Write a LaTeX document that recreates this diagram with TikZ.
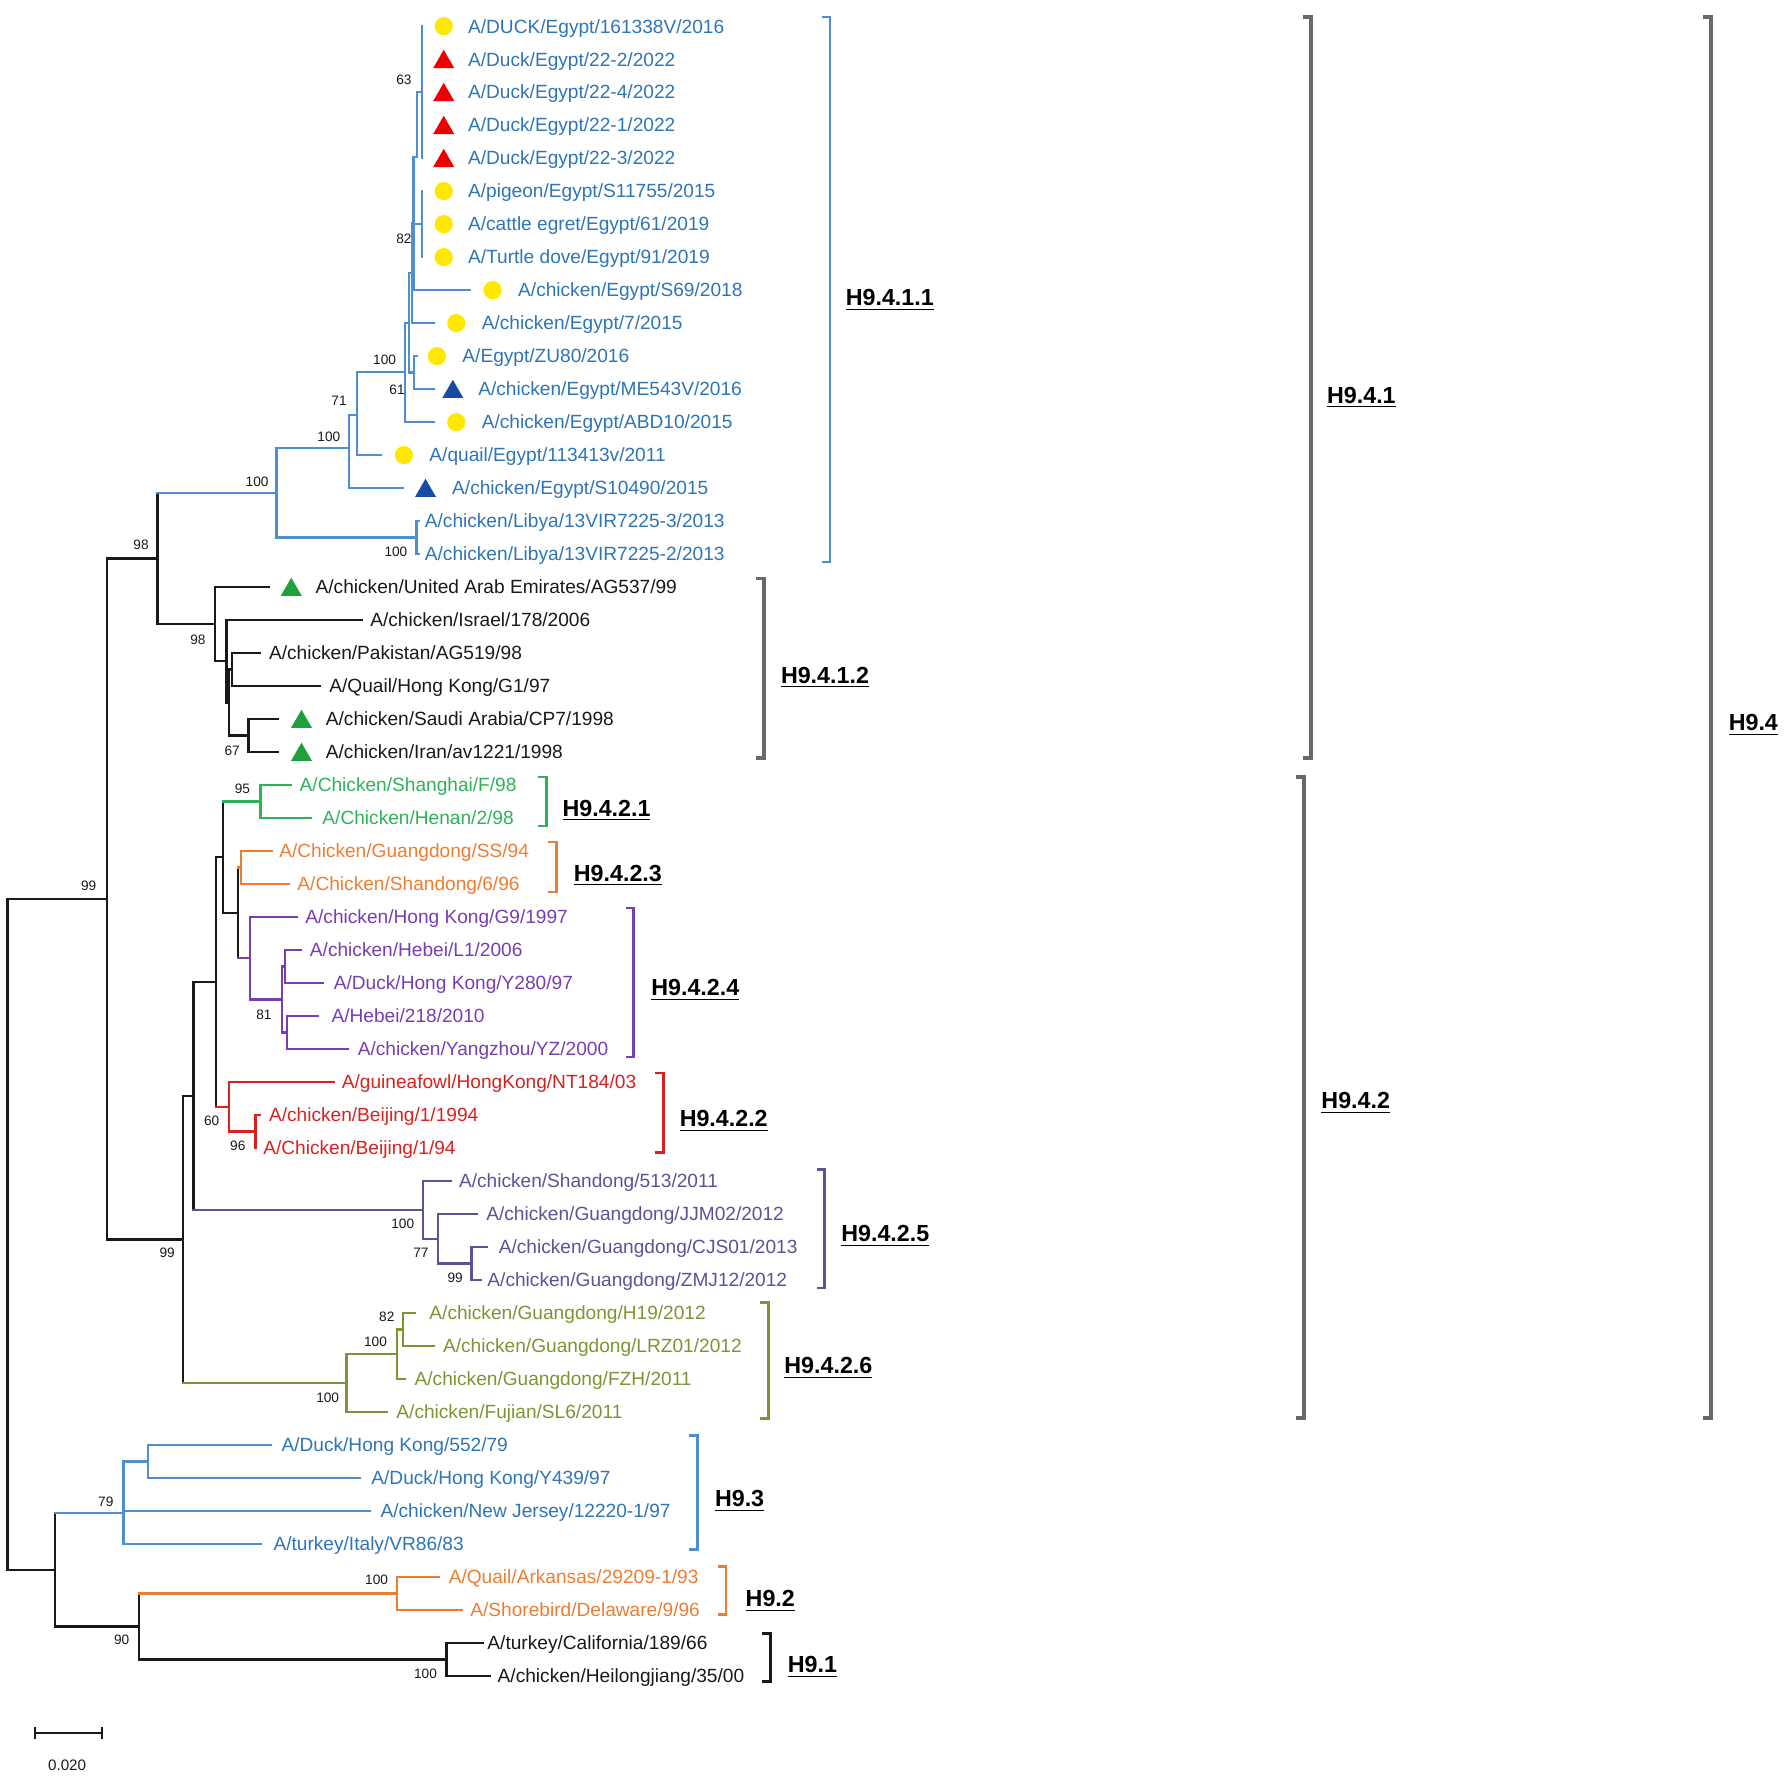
\documentclass[tikz,border=0pt]{standalone}
\usepackage{fontspec}
\setmainfont{Liberation Sans}
\usetikzlibrary{shapes.geometric}
\definecolor{cbl}{RGB}{79,143,207}
\definecolor{tbl}{RGB}{46,117,182}
\definecolor{cyel}{RGB}{255,232,0}
\definecolor{cred}{RGB}{238,0,0}
\definecolor{cdb}{RGB}{25,75,165}
\definecolor{cgt}{RGB}{30,160,60}
\definecolor{cgr}{RGB}{45,178,90}
\definecolor{cor}{RGB}{237,125,49}
\definecolor{cpu}{RGB}{118,62,178}
\definecolor{crd}{RGB}{218,32,32}
\definecolor{csl}{RGB}{92,82,150}
\definecolor{colv}{RGB}{122,150,52}
\definecolor{cgy}{RGB}{105,105,105}
\definecolor{cbk}{RGB}{25,25,25}
\newcommand{\trH}[3]{\draw[br,#3] (#1 |- #2) -- (#2);}
\newcommand{\trV}[4]{\draw[br,#4] (#1 |- #2) -- (#1 |- #3);}
\begin{document}
\begin{tikzpicture}[x=0.45pt,y=-0.45pt,
  br/.style={line width=0.9pt, line cap=rect},
  leaf/.style={anchor=west, inner sep=0pt, font=\fontsize{7.56pt}{9pt}\selectfont, text height=5.4pt, text depth=0pt},
  boot/.style={inner sep=0pt, font=\fontsize{5.4pt}{6pt}\selectfont, text height=3.9pt, text depth=0pt, text=cbk},
  clab/.style={anchor=west, inner sep=0pt, font=\fontsize{9.2pt}{11pt}\selectfont\bfseries, text height=6.6pt, text depth=0pt, text=black},
  brk/.style={line width=1.1pt},
  gbrk/.style={line width=1.5pt, cgy},
  ycirc/.style={circle, fill=cyel, minimum size=7.2pt, inner sep=0pt},
  tri/.style={regular polygon, regular polygon sides=3, minimum size=9.6pt, inner sep=0pt, yshift=-1.1pt}
]
\useasboundingbox (0,0) rectangle (1568,1564);

% ---------- leaves ----------
\coordinate (t0) at (371,23);   \node[leaf,text=tbl] (l0) at (411,23) {A/DUCK/Egypt/161338V/2016};
\coordinate (t1) at (371,52);   \node[leaf,text=tbl] (l1) at (411,52) {A/Duck/Egypt/22-2/2022};
\coordinate (t2) at (371,81);   \node[leaf,text=tbl] (l2) at (411,81) {A/Duck/Egypt/22-4/2022};
\coordinate (t3) at (371,110);  \node[leaf,text=tbl] (l3) at (411,110) {A/Duck/Egypt/22-1/2022};
\coordinate (t4) at (371,139);  \node[leaf,text=tbl] (l4) at (411,139) {A/Duck/Egypt/22-3/2022};
\coordinate (t5) at (371,168);  \node[leaf,text=tbl] (l5) at (411,168) {A/pigeon/Egypt/S11755/2015};
\coordinate (t6) at (371,197);  \node[leaf,text=tbl] (l6) at (411,197) {A/cattle egret/Egypt/61/2019};
\coordinate (t7) at (371,226);  \node[leaf,text=tbl] (l7) at (411,226) {A/Turtle dove/Egypt/91/2019};
\coordinate (t8) at (413,255);  \node[leaf,text=tbl] (l8) at (455,255) {A/chicken/Egypt/S69/2018};
\coordinate (t9) at (381,284);  \node[leaf,text=tbl] (l9) at (423,284) {A/chicken/Egypt/7/2015};
\coordinate (t10) at (366,313); \node[leaf,text=tbl] (l10) at (406,313) {A/Egypt/ZU80/2016};
\coordinate (t11) at (381,342); \node[leaf,text=tbl] (l11) at (420,342) {A/chicken/Egypt/ME543V/2016};
\coordinate (t12) at (381,371); \node[leaf,text=tbl] (l12) at (423,371) {A/chicken/Egypt/ABD10/2015};
\coordinate (t13) at (335,400); \node[leaf,text=tbl] (l13) at (377,400) {A/quail/Egypt/113413v/2011};
\coordinate (t14) at (354,429); \node[leaf,text=tbl] (l14) at (397,429) {A/chicken/Egypt/S10490/2015};
\coordinate (t15) at (368,458); \node[leaf,text=tbl] (l15) at (373,458) {A/chicken/Libya/13VIR7225-3/2013};
\coordinate (t16) at (368,487); \node[leaf,text=tbl] (l16) at (373,487) {A/chicken/Libya/13VIR7225-2/2013};
\coordinate (t17) at (236,516); \node[leaf,text=cbk] (l17) at (277,516) {A/chicken/United Arab Emirates/AG537/99};
\coordinate (t18) at (318,545); \node[leaf,text=cbk] (l18) at (325,545) {A/chicken/Israel/178/2006};
\coordinate (t19) at (228.5,574); \node[leaf,text=cbk] (l19) at (236,574) {A/chicken/Pakistan/AG519/98};
\coordinate (t20) at (281,603); \node[leaf,text=cbk] (l20) at (289,603) {A/Quail/Hong Kong/G1/97};
\coordinate (t21) at (244.6,632); \node[leaf,text=cbk] (l21) at (286,632) {A/chicken/Saudi Arabia/CP7/1998};
\coordinate (t22) at (244.6,661); \node[leaf,text=cbk] (l22) at (286,661) {A/chicken/Iran/av1221/1998};
\coordinate (t23) at (256,690); \node[leaf,text=cgr] (l23) at (263,690) {A/Chicken/Shanghai/F/98};
\coordinate (t24) at (273,719); \node[leaf,text=cgr] (l24) at (283,719) {A/Chicken/Henan/2/98};
\coordinate (t25) at (239,748); \node[leaf,text=cor] (l25) at (245,748) {A/Chicken/Guangdong/SS/94};
\coordinate (t26) at (254,777); \node[leaf,text=cor] (l26) at (261,777) {A/Chicken/Shandong/6/96};
\coordinate (t27) at (261,806); \node[leaf,text=cpu] (l27) at (268,806) {A/chicken/Hong Kong/G9/1997};
\coordinate (t28) at (264,835); \node[leaf,text=cpu] (l28) at (272,835) {A/chicken/Hebei/L1/2006};
\coordinate (t29) at (284,864); \node[leaf,text=cpu] (l29) at (293,864) {A/Duck/Hong Kong/Y280/97};
\coordinate (t30) at (279,893); \node[leaf,text=cpu] (l30) at (291,893) {A/Hebei/218/2010};
\coordinate (t31) at (306,922); \node[leaf,text=cpu] (l31) at (314,922) {A/chicken/Yangzhou/YZ/2000};
\coordinate (t32) at (293,951); \node[leaf,text=crd] (l32) at (300,951) {A/guineafowl/HongKong/NT184/03};
\coordinate (t33) at (228,980); \node[leaf,text=crd] (l33) at (236,980) {A/chicken/Beijing/1/1994};
\coordinate (t34) at (225,1009); \node[leaf,text=crd] (l34) at (231,1009) {A/Chicken/Beijing/1/94};
\coordinate (t35) at (396,1038); \node[leaf,text=csl] (l35) at (403,1038) {A/chicken/Shandong/513/2011};
\coordinate (t36) at (419,1067); \node[leaf,text=csl] (l36) at (427,1067) {A/chicken/Guangdong/JJM02/2012};
\coordinate (t37) at (428,1096); \node[leaf,text=csl] (l37) at (438,1096) {A/chicken/Guangdong/CJS01/2013};
\coordinate (t38) at (423,1125); \node[leaf,text=csl] (l38) at (428,1125) {A/chicken/Guangdong/ZMJ12/2012};
\coordinate (t39) at (365,1154); \node[leaf,text=colv] (l39) at (377,1154) {A/chicken/Guangdong/H19/2012};
\coordinate (t40) at (381,1183); \node[leaf,text=colv] (l40) at (389,1183) {A/chicken/Guangdong/LRZ01/2012};
\coordinate (t41) at (356,1212); \node[leaf,text=colv] (l41) at (364,1212) {A/chicken/Guangdong/FZH/2011};
\coordinate (t42) at (340,1241); \node[leaf,text=colv] (l42) at (348,1241) {A/chicken/Fujian/SL6/2011};
\coordinate (t43) at (238,1270); \node[leaf,text=tbl] (l43) at (247,1270) {A/Duck/Hong Kong/552/79};
\coordinate (t44) at (316,1299); \node[leaf,text=tbl] (l44) at (326,1299) {A/Duck/Hong Kong/Y439/97};
\coordinate (t45) at (325,1328); \node[leaf,text=tbl] (l45) at (334,1328) {A/chicken/New Jersey/12220-1/97};
\coordinate (t46) at (229,1357); \node[leaf,text=tbl] (l46) at (240,1357) {A/turkey/Italy/VR86/83};
\coordinate (t47) at (386,1386); \node[leaf,text=cor] (l47) at (394,1386) {A/Quail/Arkansas/29209-1/93};
\coordinate (t48) at (406,1415); \node[leaf,text=cor] (l48) at (413,1415) {A/Shorebird/Delaware/9/96};
\coordinate (t49) at (424,1444); \node[leaf,text=cbk] (l49) at (428,1444) {A/turkey/California/189/66};
\coordinate (t50) at (430.5,1473); \node[leaf,text=cbk] (l50) at (437,1473) {A/chicken/Heilongjiang/35/00};

% ---------- markers ----------
\node[ycirc] (m0) at (390,23) {};
\node[tri,fill=cred] (m1) at (390,52) {};
\node[tri,fill=cred] (m2) at (390,81) {};
\node[tri,fill=cred] (m3) at (390,110) {};
\node[tri,fill=cred] (m4) at (390,139) {};
\node[ycirc] (m5) at (390,168) {};
\node[ycirc] (m6) at (390,197) {};
\node[ycirc] (m7) at (390,226) {};
\node[ycirc] (m8) at (433,255) {};
\node[ycirc] (m9) at (401,284) {};
\node[ycirc] (m10) at (384,313) {};
\node[tri,fill=cdb] (m11) at (398,342) {};
\node[ycirc] (m12) at (401,371) {};
\node[ycirc] (m13) at (355,400) {};
\node[tri,fill=cdb] (m14) at (374,429) {};
\node[tri,fill=cgt] (m17) at (256,516) {};
\node[tri,fill=cgt] (m21) at (265,632) {};
\node[tri,fill=cgt] (m22) at (265,661) {};

% ---------- internal nodes ----------
\coordinate (n63b) at (370.6,81);
\coordinate (n63) at (366.5,138);
\coordinate (c567) at (370.6,197);
\coordinate (nz) at (363.5,196);
\coordinate (ny) at (362,240);
\coordinate (n61) at (364,327.5);
\coordinate (nx) at (359.5,284);
\coordinate (nc) at (356,327);
\coordinate (n71) at (313.5,365);
\coordinate (nb) at (306.7,394);
\coordinate (nlib) at (366,472.5);
\coordinate (na) at (243,433.25);
\coordinate (b4) at (218.3,646.5);
\coordinate (b3) at (203.6,588.5);
\coordinate (b2) at (201.5,617.5);
\coordinate (b1) at (199,581.25);
\coordinate (n98b) at (189,548.6);
\coordinate (n98a) at (138.5,490.9);
\coordinate (ngr) at (229,704.5);
\coordinate (nor) at (211.5,762.5);
\coordinate (np3) at (250.5,849.5);
\coordinate (np4) at (252,907.5);
\coordinate (np2) at (248,878.5);
\coordinate (npu) at (220,842.25);
\coordinate (n209) at (209,802.4);
\coordinate (n196) at (196,753.4);
\coordinate (nbj) at (224.5,994.5);
\coordinate (nrd) at (201,972.75);
\coordinate (n190) at (190,863);
\coordinate (ns3) at (414.3,1110.5);
\coordinate (ns2) at (385,1088.75);
\coordinate (n25) at (372,1063.4);
\coordinate (n170) at (170,963.2);
\coordinate (n354) at (354,1168.5);
\coordinate (n349) at (349,1190.25);
\coordinate (n26) at (304.5,1215.6);
\coordinate (n99b) at (161,1089.4);
\coordinate (n99a) at (93.8,790.2);
\coordinate (nhk) at (130,1284.5);
\coordinate (n93) at (108.5,1330);
\coordinate (n92) at (349,1400.5);
\coordinate (n91) at (392.4,1458.5);
\coordinate (n90) at (122,1429.5);
\coordinate (n9x) at (48.4,1379.75);
\coordinate (root) at (6.7,1085);

% ---------- H9.4.1.1 branches ----------
\trV{n63b}{t0}{t4}{cbl}
\trV{n63}{n63b}{n63}{cbl}
\trH{n63}{n63b}{cbl}
\trV{c567}{t5}{t7}{cbl}
\trV{nz}{n63}{t8}{cbl}
\trH{nz}{n63}{cbl}
\trH{nz}{c567}{cbl}
\trH{nz}{t8}{cbl}
\trV{ny}{nz}{t9}{cbl}
\trH{ny}{nz}{cbl}
\trH{ny}{t9}{cbl}
\trV{n61}{t10}{t11}{cbl}
\trH{n61}{t10}{cbl}
\trH{n61}{t11}{cbl}
\trV{nx}{ny}{n61}{cbl}
\trH{nx}{ny}{cbl}
\trH{nx}{n61}{cbl}
\trV{nc}{nx}{t12}{cbl}
\trH{nc}{nx}{cbl}
\trH{nc}{t12}{cbl}
\trV{n71}{nc}{t13}{cbl}
\trH{n71}{nc}{cbl}
\trH{n71}{t13}{cbl}
\trV{nb}{n71}{t14}{cbl}
\trH{nb}{n71}{cbl}
\trH{nb}{t14}{cbl}
\trV{nlib}{t15}{t16}{cbl}
\trH{nlib}{t15}{cbl}
\trH{nlib}{t16}{cbl}
\trV{na}{nb}{nlib}{cbl}
\trH{na}{nb}{cbl}
\trH{na}{nlib}{cbl}

% ---------- H9.4.1.2 ----------
\trV{b3}{t19}{t20}{cbk}
\trH{b3}{t19}{cbk}
\trH{b3}{t20}{cbk}
\trV{b4}{t21}{t22}{cbk}
\trH{b4}{t21}{cbk}
\trH{b4}{t22}{cbk}
\trV{b2}{b3}{b4}{cbk}
\trH{b2}{b3}{cbk}
\trH{b2}{b4}{cbk}
\trV{b1}{t18}{b2}{cbk}
\trH{b1}{t18}{cbk}
\trH{b1}{b2}{cbk}
\trV{n98b}{t17}{b1}{cbk}
\trH{n98b}{t17}{cbk}
\trH{n98b}{b1}{cbk}
\trV{n98a}{na}{n98b}{cbk}
\trH{n98a}{na}{cbl}
\trH{n98a}{n98b}{cbk}

% ---------- H9.4.2 ----------
\trV{ngr}{t23}{t24}{cgr}
\trH{ngr}{t23}{cgr}
\trH{ngr}{t24}{cgr}
\trV{nor}{t25}{t26}{cor}
\trH{nor}{t25}{cor}
\trH{nor}{t26}{cor}
\trV{np3}{t28}{t29}{cpu}
\trH{np3}{t28}{cpu}
\trH{np3}{t29}{cpu}
\trV{np4}{t30}{t31}{cpu}
\trH{np4}{t30}{cpu}
\trH{np4}{t31}{cpu}
\trV{np2}{np3}{np4}{cpu}
\trH{np2}{np3}{cpu}
\trH{np2}{np4}{cpu}
\trV{npu}{t27}{np2}{cpu}
\trH{npu}{t27}{cpu}
\trH{npu}{np2}{cpu}
\trV{n209}{nor}{npu}{cbk}
\trH{n209}{nor}{cor}
\trH{n209}{npu}{cpu}
\trV{n196}{ngr}{n209}{cbk}
\trH{n196}{ngr}{cgr}
\trH{n196}{n209}{cbk}
\trV{nbj}{t33}{t34}{crd}
\trH{nbj}{t33}{crd}
\trH{nbj}{t34}{crd}
\trV{nrd}{t32}{nbj}{crd}
\trH{nrd}{t32}{crd}
\trH{nrd}{nbj}{crd}
\trV{n190}{n196}{nrd}{cbk}
\trH{n190}{n196}{cbk}
\trH{n190}{nrd}{crd}
\trV{ns3}{t37}{t38}{csl}
\trH{ns3}{t37}{csl}
\trH{ns3}{t38}{csl}
\trV{ns2}{t36}{ns3}{csl}
\trH{ns2}{t36}{csl}
\trH{ns2}{ns3}{csl}
\trV{n25}{t35}{ns2}{csl}
\trH{n25}{t35}{csl}
\trH{n25}{ns2}{csl}
\trV{n170}{n190}{n25}{cbk}
\trH{n170}{n190}{cbk}
\trH{n170}{n25}{csl}
\trV{n354}{t39}{t40}{colv}
\trH{n354}{t39}{colv}
\trH{n354}{t40}{colv}
\trV{n349}{n354}{t41}{colv}
\trH{n349}{n354}{colv}
\trH{n349}{t41}{colv}
\trV{n26}{n349}{t42}{colv}
\trH{n26}{n349}{colv}
\trH{n26}{t42}{colv}
\trV{n99b}{n170}{n26}{cbk}
\trH{n99b}{n170}{cbk}
\trH{n99b}{n26}{colv}
\trV{n99a}{n98a}{n99b}{cbk}
\trH{n99a}{n98a}{cbk}
\trH{n99a}{n99b}{cbk}

% ---------- H9.3 / H9.2 / H9.1 ----------
\trV{nhk}{t43}{t44}{cbl}
\trH{nhk}{t43}{cbl}
\trH{nhk}{t44}{cbl}
\trV{n93}{nhk}{t46}{cbl}
\trH{n93}{nhk}{cbl}
\trH{n93}{t45}{cbl}
\trH{n93}{t46}{cbl}
\trV{n92}{t47}{t48}{cor}
\trH{n92}{t47}{cor}
\trH{n92}{t48}{cor}
\trV{n91}{t49}{t50}{cbk}
\trH{n91}{t49}{cbk}
\trH{n91}{t50}{cbk}
\trV{n90}{n92}{n91}{cbk}
\trH{n90}{n92}{cor}
\trH{n90}{n91}{cbk}
\trV{n9x}{n93}{n90}{cbk}
\trH{n9x}{n93}{cbl}
\trH{n9x}{n90}{cbk}
\trV{root}{n99a}{n9x}{cbk}
\trH{root}{n99a}{cbk}
\trH{root}{n9x}{cbk}

% ---------- bootstrap values ----------
\node[boot] (bs1) at (355,70) {63};
\node[boot] (bs2) at (355,210) {82};
\node[boot] (bs3) at (338,316) {100};
\node[boot] (bs4) at (349,342) {61};
\node[boot] (bs5) at (298,352) {71};
\node[boot] (bs6) at (289,384) {100};
\node[boot] (bs7) at (226,423) {100};
\node[boot] (bs8) at (348,485) {100};
\node[boot] (bs9) at (124,479) {98};
\node[boot] (bs10) at (174,562) {98};
\node[boot] (bs11) at (204,660) {67};
\node[boot] (bs12) at (213,693) {95};
\node[boot] (bs13) at (232,892) {81};
\node[boot] (bs14) at (186,985) {60};
\node[boot] (bs15) at (209,1007) {96};
\node[boot] (bs16) at (78,778) {99};
\node[boot] (bs17) at (354,1075) {100};
\node[boot] (bs18) at (370,1101) {77};
\node[boot] (bs19) at (400,1123) {99};
\node[boot] (bs20) at (147,1101) {99};
\node[boot] (bs21) at (340,1157) {82};
\node[boot] (bs22) at (330,1179) {100};
\node[boot] (bs23) at (288,1228) {100};
\node[boot] (bs24) at (93,1320) {79};
\node[boot] (bs25) at (331,1388) {100};
\node[boot] (bs26) at (107,1441) {90};
\node[boot] (bs27) at (374,1471) {100};

% ---------- scale bar ----------
\coordinate (s1) at (30.5,1523);
\coordinate (s2) at (89.7,1523);
\draw[br,cbk] (s1) -- (s2);
\draw[br,cbk] ([yshift=2pt]s1) -- ([yshift=-2pt]s1);
\draw[br,cbk] ([yshift=2pt]s2) -- ([yshift=-2pt]s2);
\node[boot,font=\fontsize{6pt}{7pt}\selectfont] (sl) at (59,1552) {0.020};

% ---------- clade brackets ----------
\coordinate (k1a) at (729.5,15);  \coordinate (k1b) at (729.5,494);
\draw[brk,cbl] ([xshift=-3.2pt]k1a) -- (k1a) -- (k1b) -- ([xshift=-3.2pt]k1b);
\node[clab] (K1) at (743,261) {\underline{H9.4.1.1}};
\coordinate (k2a) at (671.5,508.5); \coordinate (k2b) at (671.5,666);
\draw[gbrk] ([xshift=-3.2pt]k2a) -- (k2a) -- (k2b) -- ([xshift=-3.2pt]k2b);
\node[clab] (K2) at (686,593) {\underline{H9.4.1.2}};
\coordinate (k3a) at (480,683); \coordinate (k3b) at (480,726);
\draw[brk,cgr] ([xshift=-3.2pt]k3a) -- (k3a) -- (k3b) -- ([xshift=-3.2pt]k3b);
\node[clab] (K3) at (494,710) {\underline{H9.4.2.1}};
\coordinate (k4a) at (489,740); \coordinate (k4b) at (489,784);
\draw[brk,cor] ([xshift=-3.2pt]k4a) -- (k4a) -- (k4b) -- ([xshift=-3.2pt]k4b);
\node[clab] (K4) at (504,767) {\underline{H9.4.2.3}};
\coordinate (k5a) at (557,798); \coordinate (k5b) at (557,929);
\draw[brk,cpu] ([xshift=-3.2pt]k5a) -- (k5a) -- (k5b) -- ([xshift=-3.2pt]k5b);
\node[clab] (K5) at (572,868) {\underline{H9.4.2.4}};
\coordinate (k6a) at (583,943); \coordinate (k6b) at (583,1013);
\draw[brk,crd] ([xshift=-3.2pt]k6a) -- (k6a) -- (k6b) -- ([xshift=-3.2pt]k6b);
\node[clab] (K6) at (597,983) {\underline{H9.4.2.2}};
\coordinate (k7a) at (725,1028); \coordinate (k7b) at (725,1132);
\draw[brk,csl] ([xshift=-3.2pt]k7a) -- (k7a) -- (k7b) -- ([xshift=-3.2pt]k7b);
\node[clab] (K7) at (739,1084) {\underline{H9.4.2.5}};
\coordinate (k8a) at (675.5,1145); \coordinate (k8b) at (675.5,1247);
\draw[brk,colv] ([xshift=-3.2pt]k8a) -- (k8a) -- (k8b) -- ([xshift=-3.2pt]k8b);
\node[clab] (K8) at (689,1200) {\underline{H9.4.2.6}};
\coordinate (k9a) at (613,1262); \coordinate (k9b) at (613,1362);
\draw[brk,cbl] ([xshift=-3.2pt]k9a) -- (k9a) -- (k9b) -- ([xshift=-3.2pt]k9b);
\node[clab] (K9) at (628,1317) {\underline{H9.3}};
\coordinate (k10a) at (638,1377); \coordinate (k10b) at (638,1419);
\draw[brk,cor] ([xshift=-3.2pt]k10a) -- (k10a) -- (k10b) -- ([xshift=-3.2pt]k10b);
\node[clab] (K10) at (655,1405) {\underline{H9.2}};
\coordinate (k11a) at (677,1436); \coordinate (k11b) at (677,1478);
\draw[brk,cbk] ([xshift=-3.2pt]k11a) -- (k11a) -- (k11b) -- ([xshift=-3.2pt]k11b);
\node[clab] (K11) at (692,1463) {\underline{H9.1}};
\coordinate (k12a) at (1152,15); \coordinate (k12b) at (1152,666);
\draw[gbrk] ([xshift=-3.2pt]k12a) -- (k12a) -- (k12b) -- ([xshift=-3.2pt]k12b);
\node[clab] (K12) at (1166,347) {\underline{H9.4.1}};
\coordinate (k13a) at (1146,683); \coordinate (k13b) at (1146,1246);
\draw[gbrk] ([xshift=-3.2pt]k13a) -- (k13a) -- (k13b) -- ([xshift=-3.2pt]k13b);
\node[clab] (K13) at (1161,967) {\underline{H9.4.2}};
\coordinate (k14a) at (1504,15); \coordinate (k14b) at (1504,1246);
\draw[gbrk] ([xshift=-3.2pt]k14a) -- (k14a) -- (k14b) -- ([xshift=-3.2pt]k14b);
\node[clab] (K14) at (1519,635) {\underline{H9.4}};
\end{tikzpicture}
\end{document}
